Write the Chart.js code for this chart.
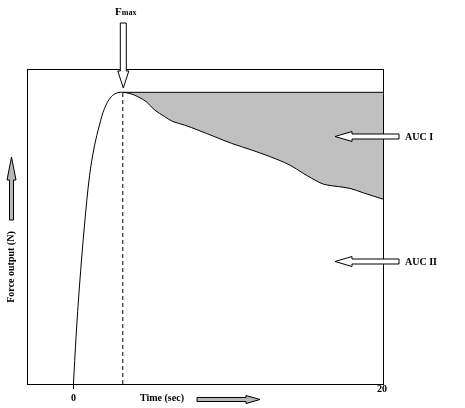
<!DOCTYPE html>
<html>
<head>
<meta charset="utf-8">
<script src="https://cdn.jsdelivr.net/npm/chart.js@4/dist/chart.umd.min.js"></script>
<style>
html,body{margin:0;padding:0;background:#fff;}
canvas{display:block;}
</style>
</head>
<body>
<canvas id="c" width="465" height="408"></canvas>
<script>
// ---- data ----
const timeRise    = [0, 0.17, 0.39, 0.71, 1.04, 1.36, 1.68, 2.01, 2.44, 2.87, 3.19];
const forceRise   = [0, 15.0, 31.1, 50.2, 66.1, 75.6, 82.2, 87.5, 91.2, 92.5, 92.6];
const timeDecline  = [3.19, 3.73, 4.16, 4.71, 5.24, 5.89, 6.43, 7.18, 8.05, 9.13, 10.21, 11.50, 12.69, 13.98, 14.84, 15.92, 16.36, 17.86, 18.72, 20];
const forceDecline = [92.6, 92.1, 91.2, 89.6, 87.0, 84.9, 83.3, 82.2, 80.6, 78.5, 76.4, 74.3, 72.2, 69.5, 66.9, 63.9, 63.2, 62.1, 60.7, 58.7];
const peakTime = 3.19;
const peakForce = 92.6;
const xTickValues = [0, 20];
const xTickLabels = ['0', '20'];
const xTitle = 'Time (sec)';
const yTitle = 'Force output (N)';
const peakLabel = ['F', 'max'];
const areaLabels = ['AUC I', 'AUC II'];
const areaLabelForce = [78.7, 38.9];

const pts = (xs, ys) => xs.map((x, i) => ({x: x, y: ys[i]}));
const curve = pts(timeRise, forceRise).concat(pts(timeDecline.slice(1), forceDecline.slice(1)));

const SERIF = '"Liberation Serif", "DejaVu Serif", serif';

function arrow(ctx, pts, fill) {
  ctx.save();
  ctx.beginPath();
  pts.forEach((p, i) => i ? ctx.lineTo(p[0], p[1]) : ctx.moveTo(p[0], p[1]));
  ctx.closePath();
  ctx.fillStyle = fill;
  ctx.fill();
  ctx.lineWidth = 1;
  ctx.strokeStyle = '#000';
  ctx.stroke();
  ctx.restore();
}
function arrowLeft(ctx, tip, cy, hl, hh, sh, tail, fill) {
  arrow(ctx, [[tip, cy], [tip + hl, cy - hh], [tip + hl, cy - sh], [tail, cy - sh], [tail, cy + sh], [tip + hl, cy + sh], [tip + hl, cy + hh]], fill);
}
function arrowRight(ctx, tip, cy, hl, hh, sh, tail, fill) {
  arrow(ctx, [[tip, cy], [tip - hl, cy - hh], [tip - hl, cy - sh], [tail, cy - sh], [tail, cy + sh], [tip - hl, cy + sh], [tip - hl, cy + hh]], fill);
}
function arrowDown(ctx, cx, tip, hl, hh, sh, tail, fill) {
  arrow(ctx, [[cx, tip], [cx - hh, tip - hl], [cx - sh, tip - hl], [cx - sh, tail], [cx + sh, tail], [cx + sh, tip - hl], [cx + hh, tip - hl]], fill);
}
function arrowUp(ctx, cx, tip, hl, hh, sh, tail, fill) {
  arrow(ctx, [[cx, tip], [cx - hh, tip + hl], [cx - sh, tip + hl], [cx - sh, tail], [cx + sh, tail], [cx + sh, tip + hl], [cx + hh, tip + hl]], fill);
}

const decor = {
  id: 'decor',
  beforeDraw(chart) {
    const ctx = chart.ctx;
    ctx.save();
    ctx.fillStyle = '#fff';
    ctx.fillRect(0, 0, chart.width, chart.height);
    ctx.restore();
  },
  afterDraw(chart) {
    const ctx = chart.ctx;
    const a = chart.chartArea;
    const xs = chart.scales.x, ys = chart.scales.y;
    ctx.save();
    ctx.strokeStyle = '#000';
    ctx.lineWidth = 1;
    ctx.strokeRect(Math.round(a.left) + 0.5, Math.round(a.top) + 0.5, Math.round(a.right - a.left), Math.round(a.bottom - a.top));
    const x0 = Math.round(xs.getPixelForValue(xTickValues[0])) + 0.5;
    ctx.beginPath(); ctx.moveTo(x0, a.bottom); ctx.lineTo(x0, a.bottom + 5); ctx.stroke();

    ctx.fillStyle = '#000';
    ctx.font = 'bold 10px ' + SERIF;
    ctx.textAlign = 'center';
    ctx.textBaseline = 'alphabetic';
    ctx.fillText(xTickLabels[0], xs.getPixelForValue(xTickValues[0]), a.bottom + 17);
    ctx.fillText(xTickLabels[1], xs.getPixelForValue(xTickValues[1]) - 1, a.bottom + 8);

    ctx.textAlign = 'left';
    ctx.fillText(xTitle, 140, a.bottom + 17);
    arrowRight(ctx, 260, 399.5, 14, 4, 2, 197, '#b8b8b8');

    ctx.fillStyle = '#000';
    ctx.save();
    ctx.translate(14, 267);
    ctx.rotate(-Math.PI / 2);
    ctx.textAlign = 'center';
    ctx.fillText(yTitle, 0, 0);
    ctx.restore();
    arrowUp(ctx, 11.5, 157, 23, 4.5, 2, 220, '#b8b8b8');

    const px = xs.getPixelForValue(peakTime);
    ctx.fillStyle = '#000';
    ctx.textAlign = 'left';
    ctx.font = 'bold 11px ' + SERIF;
    const fw = ctx.measureText(peakLabel[0]).width;
    ctx.font = 'bold 8px ' + SERIF;
    const mw = ctx.measureText(peakLabel[1]).width;
    const sx = px + 3 - (fw + mw) / 2;
    ctx.font = 'bold 11px ' + SERIF;
    ctx.fillText(peakLabel[0], sx, 15);
    ctx.font = 'bold 8px ' + SERIF;
    ctx.fillText(peakLabel[1], sx + fw, 15);
    arrowDown(ctx, px + 0.5, 88, 17, 5.5, 3, 23, '#fff');

    ctx.font = 'bold 10px ' + SERIF;
    areaLabels.forEach((t, i) => {
      const cy = Math.round(ys.getPixelForValue(areaLabelForce[i])) + 0.5;
      arrowLeft(ctx, 335, cy, 17, 5, 2.5, 399, '#fff');
      ctx.fillStyle = '#000';
      ctx.fillText(t, 405, cy + 3.5);
    });
    ctx.restore();
  }
};

new Chart(document.getElementById('c'), {
  type: 'scatter',
  data: {
    datasets: [
      { data: curve, showLine: true, borderColor: '#000', borderWidth: 1, pointRadius: 0, tension: 0.35, fill: false },
      { data: [{x: peakTime, y: peakForce}, {x: 20, y: peakForce}], showLine: true, borderColor: '#000', borderWidth: 1, pointRadius: 0, fill: false },
      { data: [{x: peakTime, y: 0}, {x: peakTime, y: peakForce}], showLine: true, borderColor: '#000', borderWidth: 1, borderDash: [4, 3], pointRadius: 0, fill: false },
      { data: pts(timeDecline, forceDecline), showLine: true, borderWidth: 0, borderColor: 'rgba(0,0,0,0)', backgroundColor: '#c0c0c0', pointRadius: 0, tension: 0.35, fill: {value: peakForce} }
    ]
  },
  options: {
    responsive: false,
    devicePixelRatio: 1,
    animation: false,
    layout: { padding: { left: 27, top: 69, right: 82, bottom: 24 } },
    plugins: { legend: { display: false }, tooltip: { enabled: false } },
    scales: {
      x: { type: 'linear', min: -3, max: 20, display: false },
      y: { type: 'linear', min: 0, max: 100, display: false }
    }
  },
  plugins: [decor]
});
</script>
</body>
</html>
